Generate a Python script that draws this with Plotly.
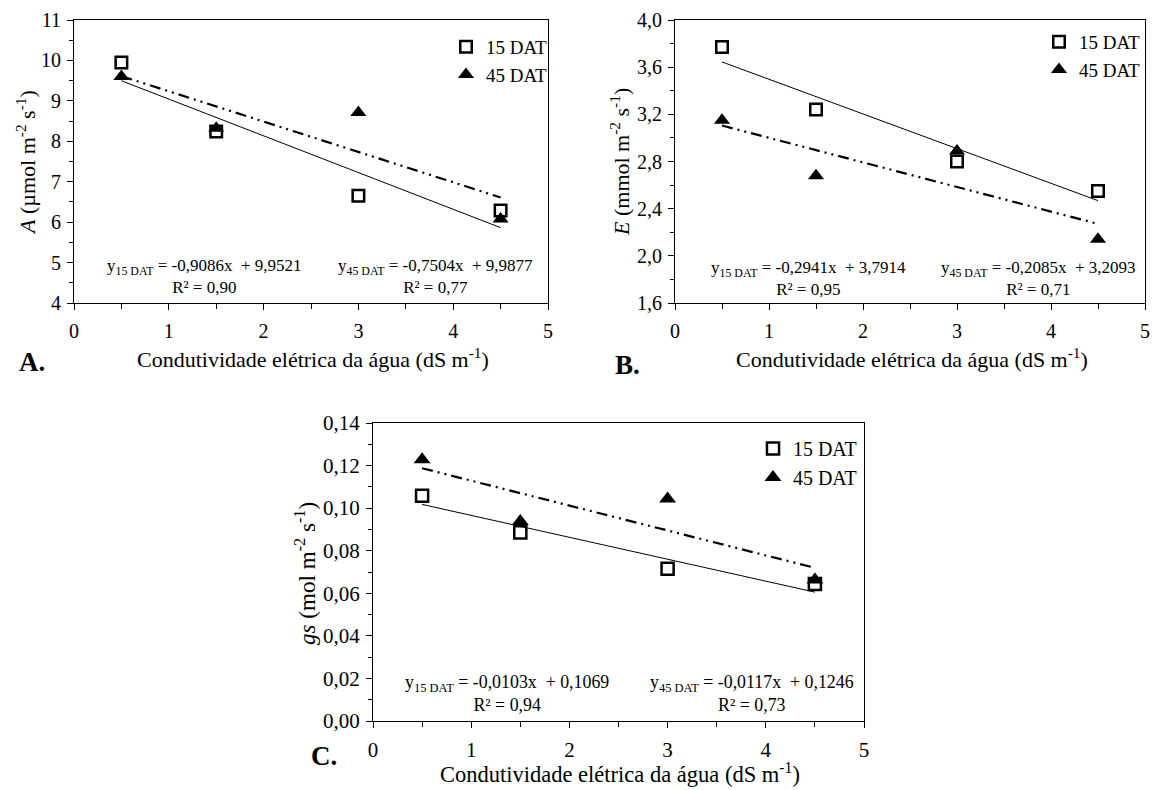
import plotly.graph_objects as go
import numpy as np

W, H = 1153, 790

# ---------------- data ----------------
ce = [0.5, 1.5, 3.0, 4.5]          # Condutividade elétrica da água (dS m-1)

A_15 = [9.95, 8.24, 6.65, 6.29]
A_45 = [9.60, 8.32, 8.71, 6.08]
E_15 = [3.77, 3.24, 2.80, 2.55]
E_45 = [3.15, 2.68, 2.89, 2.14]
gs_15 = [0.1058, 0.0886, 0.0715, 0.0644]
gs_45 = [0.1228, 0.0938, 0.1044, 0.0663]

# regression coefficients as printed on the chart (slope, intercept)
A_fit_15 = (-0.9086, 9.9521)
A_fit_45 = (-0.7504, 9.9877)
E_fit_15 = (-0.2941, 3.7914)
E_fit_45 = (-0.2085, 3.2093)
gs_fit_15 = (-0.0103, 0.1069)
gs_fit_45 = (-0.0117, 0.1246)

A_eq = ["y<sub>15 DAT</sub> = -0,9086x\u00a0 + 9,9521<br>R² = 0,90",
        "y<sub>45 DAT</sub> = -0,7504x\u00a0 + 9,9877<br>R² = 0,77"]
E_eq = ["y<sub>15 DAT</sub> = -0,2941x\u00a0 + 3,7914<br>R² = 0,95",
        "y<sub>45 DAT</sub> = -0,2085x\u00a0 + 3,2093<br>R² = 0,71"]
gs_eq = ["y<sub>15 DAT</sub> = -0,0103x\u00a0 + 0,1069<br>R² = 0,94",
         "y<sub>45 DAT</sub> = -0,0117x\u00a0 + 0,1246<br>R² = 0,73"]

series_names = ["15 DAT", "45 DAT"]

# ---------------- layout helpers ----------------
FONT = "Liberation Serif"


def px(x):
    return x / W


def py(y):
    return 1 - y / H


panels = [
    dict(xa="x", ya="y", lg="legend", xd=(74, 548), yd=(20, 303), yr=[4, 11], dt=1, mdt=0.5, fmt="d",
         d15=A_15, d45=A_45, f15=A_fit_15, f45=A_fit_45, eq=A_eq, eqx=(1.375, 3.81), eqy=4.645,
         ytitle="<i>A</i> (µmol m<sup>-2</sup> s<sup>-1</sup>)", yt=(26, 163), xt=(313, 358),
         lab="A.", labxy=(32, 362), lgxy=(446, 28), fs=1.0, xts=22),
    dict(xa="x2", ya="y2", lg="legend2", xd=(675, 1145), yd=(20, 303), yr=[1.6, 4.0], dt=0.4, mdt=0.2, fmt=".1f",
         d15=E_15, d45=E_45, f15=E_fit_15, f45=E_fit_45, eq=E_eq, eqx=(1.42, 3.87), eqy=1.805,
         ytitle="<i>E</i> (mmol m<sup>-2</sup> s<sup>-1</sup>)", yt=(620, 162), xt=(912, 358),
         lab="B.", labxy=(628, 365), lgxy=(1039, 23), fs=1.0, xts=22),
    dict(xa="x3", ya="y3", lg="legend3", xd=(373, 864), yd=(423, 721), yr=[0, 0.14], dt=0.02, mdt=0.01, fmt=".2f",
         d15=gs_15, d45=gs_45, f15=gs_fit_15, f45=gs_fit_45, eq=gs_eq, eqx=(1.36, 3.86), eqy=0.01295,
         ytitle="<i>gs</i> (mol m<sup>-2</sup> s<sup>-1</sup>)", yt=(305, 574), xt=(620, 773),
         lab="C.", labxy=(324, 756), lgxy=(753, 429), fs=1.05, xts=22.5),
]

fig = go.Figure()
annotations = []
layout = {}

for i, p in enumerate(panels):
    sfx = "" if i == 0 else str(i + 1)
    fs = p["fs"]
    xx = np.array([min(ce), max(ce)])
    # trend lines
    fig.add_trace(go.Scatter(x=xx, y=p["f15"][0] * xx + p["f15"][1], mode="lines",
                             line=dict(color="black", width=1), showlegend=False,
                             xaxis=p["xa"], yaxis=p["ya"], hoverinfo="skip"))
    fig.add_trace(go.Scatter(x=xx, y=p["f45"][0] * xx + p["f45"][1], mode="lines",
                             line=dict(color="black", width=2.2, dash="11px,5px,2px,5px,2px,5px"),
                             showlegend=False, xaxis=p["xa"], yaxis=p["ya"], hoverinfo="skip"))
    # points
    fig.add_trace(go.Scatter(x=ce, y=p["d45"], mode="markers", name=series_names[1],
                             marker=dict(symbol="triangle-up", size=14 * fs, color="black"),
                             xaxis=p["xa"], yaxis=p["ya"], legend=p["lg"], legendgroup=f"g45{i}",
                             legendrank=2))
    fig.add_trace(go.Scatter(x=ce, y=p["d15"], mode="markers", name=series_names[0],
                             marker=dict(symbol="square-open", size=11.5 * fs, color="black",
                                         line=dict(width=2.5, color="black")),
                             xaxis=p["xa"], yaxis=p["ya"], legend=p["lg"], legendgroup=f"g15{i}",
                             legendrank=1))

    layout["xaxis" + sfx] = dict(
        domain=[px(p["xd"][0]), px(p["xd"][1])], anchor="y" + sfx, range=[0, 5],
        tickmode="linear", tick0=0, dtick=1, ticks="outside", ticklen=6, tickwidth=1,
        tickcolor="black", minor=dict(dtick=0.5, ticks="outside", ticklen=5, tickcolor="black"),
        showline=True, linecolor="black", linewidth=1, mirror=True, showgrid=False,
        zeroline=False, tickfont=dict(family=FONT, size=20 * fs, color="black"),
        ticklabelstandoff=4, ticklabeloverflow="allow", automargin=False,
    )
    layout["yaxis" + sfx] = dict(
        domain=[py(p["yd"][1]), py(p["yd"][0])], anchor="x" + sfx, range=p["yr"],
        tickmode="linear", tick0=p["yr"][0], dtick=p["dt"], ticks="outside", ticklen=6,
        tickwidth=1, tickcolor="black",
        minor=dict(dtick=p["mdt"], ticks="outside", ticklen=4, tickcolor="black"),
        showline=True, linecolor="black", linewidth=1, mirror=True, showgrid=False,
        zeroline=False, tickformat=p["fmt"],
        tickfont=dict(family=FONT, size=20 * fs, color="black"), ticklabelstandoff=2,
        ticklabeloverflow="allow", automargin=False,
    )
    layout[p["lg"]] = dict(
        x=px(p["lgxy"][0]), y=py(p["lgxy"][1]), xanchor="left", yanchor="top",
        bgcolor="rgba(0,0,0,0)", borderwidth=0, traceorder="grouped", tracegroupgap=0,
        font=dict(family=FONT, size=19 * fs, color="black"), itemwidth=30,
    )
    # equations
    for k in range(2):
        annotations.append(dict(
            x=p["eqx"][k], y=p["eqy"], xref=p["xa"], yref=p["ya"], text=p["eq"][k],
            showarrow=False, align="center", xanchor="center", yanchor="middle",
            font=dict(family=FONT, size=17 * fs, color="black")))
    # axis titles
    annotations.append(dict(
        x=px(p["yt"][0]), y=py(p["yt"][1]), xref="paper", yref="paper", text=p["ytitle"],
        textangle=-90, showarrow=False, xanchor="center", yanchor="middle",
        font=dict(family=FONT, size=22 * fs, color="black")))
    annotations.append(dict(
        x=px(p["xt"][0]), y=py(p["xt"][1]), xref="paper", yref="paper",
        text="Condutividade elétrica da água (dS m<sup>-1</sup>)",
        showarrow=False, xanchor="center", yanchor="middle",
        font=dict(family=FONT, size=p["xts"], color="black")))
    # panel letter
    annotations.append(dict(
        x=px(p["labxy"][0]), y=py(p["labxy"][1]), xref="paper", yref="paper",
        text="<b>" + p["lab"] + "</b>", showarrow=False, xanchor="center", yanchor="middle",
        font=dict(family=FONT, size=27, color="black")))

fig.update_layout(
    width=W, height=H, margin=dict(l=0, r=0, t=0, b=0, autoexpand=False),
    paper_bgcolor="white", plot_bgcolor="white", separators=", ",
    annotations=annotations, **layout,
)

# remove the browser's default 8px page margin so the figure sits at the window origin
fig.write_html("out.html", config={"displayModeBar": False},
               post_script="document.body.style.margin='0';document.body.style.overflow='hidden';")
